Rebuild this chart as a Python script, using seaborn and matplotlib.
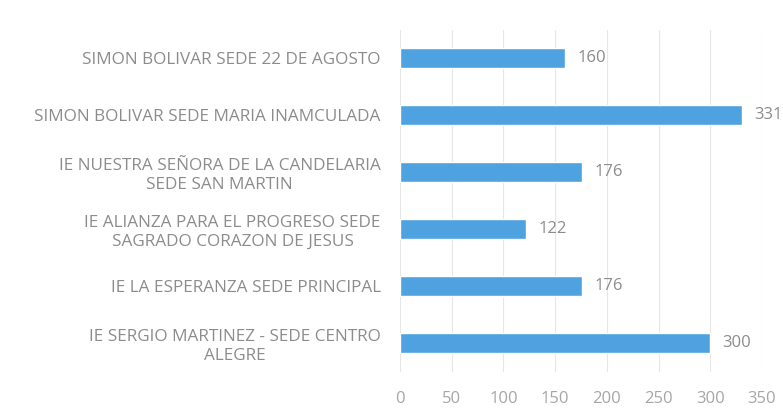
import seaborn as sns
import matplotlib.pyplot as plt
import pandas as pd

sns.set_theme(style="white")
plt.rcParams['font.family'] = ['Open Sans', 'DejaVu Sans']

# Data (top to bottom)
sedes = [
    'SIMON BOLIVAR SEDE 22 DE AGOSTO',
    'SIMON BOLIVAR SEDE MARIA INAMCULADA',
    'IE NUESTRA SEÑORA DE LA CANDELARIA\nSEDE SAN MARTIN',
    'IE ALIANZA PARA EL PROGRESO SEDE\nSAGRADO CORAZON DE JESUS',
    'IE LA ESPERANZA SEDE PRINCIPAL',
    'IE SERGIO MARTINEZ - SEDE CENTRO\nALEGRE',
]
estudiantes = [160, 331, 176, 122, 176, 300]
x_ticks = [0, 50, 100, 150, 200, 250, 300, 350]

df = pd.DataFrame({'sede': sedes, 'estudiantes': estudiantes})

fig = plt.figure(figsize=(7.83, 4.18), dpi=100)
ax = fig.add_axes([0.511, 0.111, 0.462, 0.818])

sns.barplot(data=df, x='estudiantes', y='sede', color='#4fa2e0',
            saturation=1, width=0.36, ax=ax)

# value labels
for c in ax.containers:
    ax.bar_label(c, padding=9, color='#8c8c8c', fontsize=12)

ax.set_xlim(0, 350)
ax.set_xticks(x_ticks)
ax.xaxis.grid(True, color='#e6e6e6', linewidth=0.8)
ax.set_axisbelow(True)
ax.set_xlabel('')
ax.set_ylabel('')
ax.tick_params(axis='x', colors='#a6a6a6', labelsize=12, length=0, pad=14)
ax.tick_params(axis='y', colors='#8c8c8c', labelsize=12.3, length=0, pad=14)
for t in ax.get_yticklabels():
    t.set_multialignment('center')
    t.set_linespacing(1.2)
sns.despine(ax=ax, left=True, bottom=True)

plt.savefig('out.png', dpi=100)
